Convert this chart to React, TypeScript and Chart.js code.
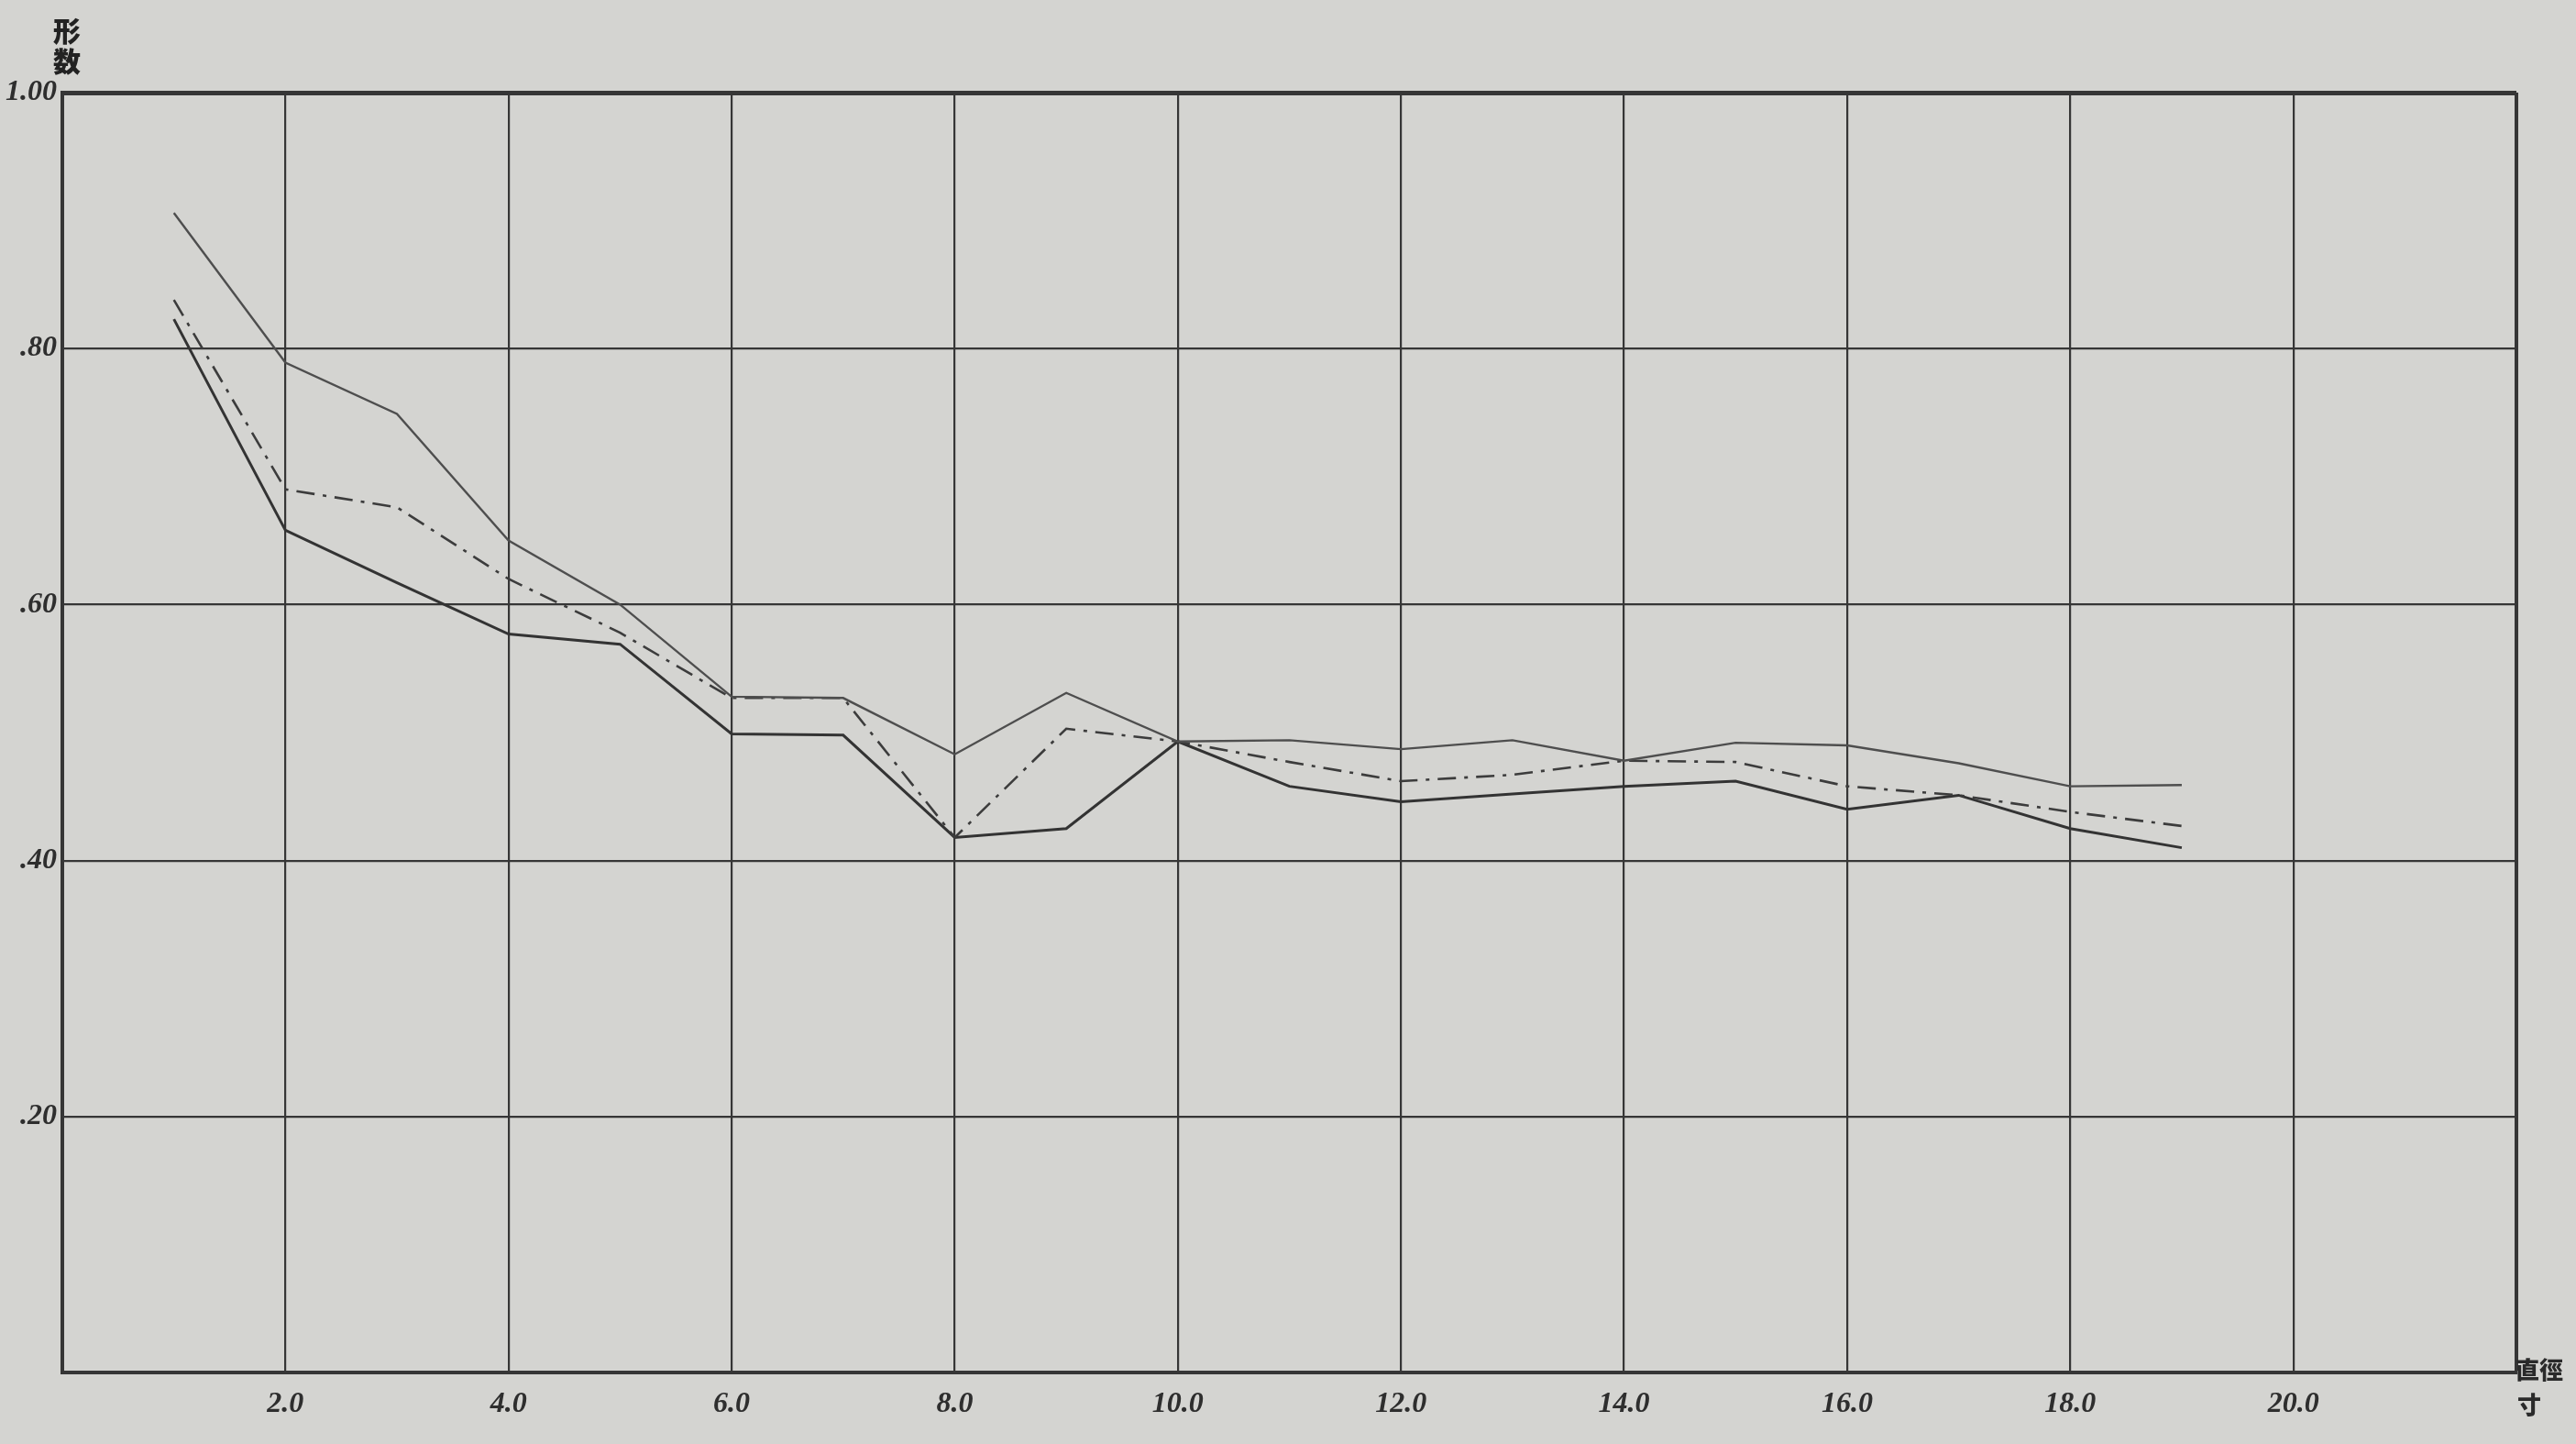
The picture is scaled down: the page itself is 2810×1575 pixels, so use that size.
import React, { useEffect, useRef } from "react";
import { Chart, registerables } from "chart.js";

Chart.register(...registerables);

// Diameter classes (x) and three form-factor series (y)
const diameters = [1, 2, 3, 4, 5, 6, 7, 8, 9, 10, 11, 12, 13, 14, 15, 16, 17, 18, 19];
const upperSeries = [0.906, 0.789, 0.749, 0.650, 0.600, 0.528, 0.527, 0.483, 0.531, 0.493, 0.494, 0.487, 0.494, 0.478, 0.492, 0.490, 0.476, 0.458, 0.459];
const middleSeries = [0.838, 0.690, 0.676, 0.620, 0.578, 0.527, 0.527, 0.418, 0.503, 0.493, 0.477, 0.462, 0.467, 0.478, 0.477, 0.458, 0.451, 0.438, 0.427];
const lowerSeries = [0.823, 0.658, 0.617, 0.577, 0.569, 0.499, 0.498, 0.418, 0.425, 0.493, 0.458, 0.446, 0.452, 0.458, 0.462, 0.440, 0.451, 0.425, 0.410];

const xTickValues = [2, 4, 6, 8, 10, 12, 14, 16, 18, 20];
const xTickLabels = ["2.0", "4.0", "6.0", "8.0", "10.0", "12.0", "14.0", "16.0", "18.0", "20.0"];
const yTickValues = [0.2, 0.4, 0.6, 0.8, 1.0];
const yTickLabels = [".20", ".40", ".60", ".80", "1.00"];

const yTitleChars = ["形", "数"];
const xTitleTop = "直徑";
const xTitleBottom = "寸";

const W = 2810;
const H = 1575;
const PAPER = "#d4d4d1";
const INK = "#363636";

export default function App() {
  const canvasRef = useRef<HTMLCanvasElement | null>(null);

  useEffect(() => {
    const canvas = canvasRef.current;
    if (!canvas) return;

    const toPoints = (ys: number[]) => diameters.map((x, i) => ({ x, y: ys[i] }));

    const paperPlugin = {
      id: "paper",
      beforeDraw(chart: any) {
        const c = chart.ctx;
        c.save();
        c.fillStyle = PAPER;
        c.fillRect(0, 0, chart.width, chart.height);
        c.restore();
      },
    };

    const tickFont = { family: "'Liberation Serif', serif", size: 32, style: "italic", weight: "bold" };

    const chart = new Chart(canvas, {
      type: "line",
      data: {
        datasets: [
          {
            label: "upper",
            data: toPoints(upperSeries),
            borderColor: "#4e4e4e",
            borderWidth: 2.4,
            pointRadius: 0,
            tension: 0,
            fill: false,
          },
          {
            label: "middle",
            data: toPoints(middleSeries),
            borderColor: "#3c3c3c",
            borderWidth: 2.6,
            borderDash: [20, 9, 4, 9],
            pointRadius: 0,
            tension: 0,
            fill: false,
          },
          {
            label: "lower",
            data: toPoints(lowerSeries),
            borderColor: "#333333",
            borderWidth: 3,
            pointRadius: 0,
            tension: 0,
            fill: false,
          },
        ],
      },
      options: {
        responsive: false,
        animation: false,
        maintainAspectRatio: false,
        layout: { padding: { top: 101, right: 65, left: 0, bottom: 0 } },
        plugins: {
          legend: { display: false },
          tooltip: { enabled: false },
          title: { display: false },
        },
        scales: {
          x: {
            type: "linear",
            min: 0,
            max: 22,
            afterFit(scale: any) {
              scale.height = 78;
            },
            border: { display: true, color: INK, width: 4 },
            grid: {
              drawTicks: false,
              color: INK,
              lineWidth: (ctx: any) => {
                const v = ctx.tick ? ctx.tick.value : 0;
                return v === 22 ? 4 : 2.2;
              },
            },
            ticks: {
              stepSize: 2,
              autoSkip: false,
              maxRotation: 0,
              padding: 16,
              color: "#2e2e2e",
              font: tickFont,
              callback: (v: any) => {
                const i = xTickValues.findIndex((t) => Math.abs(t - Number(v)) < 1e-6);
                return i >= 0 ? xTickLabels[i] : "";
              },
            },
          },
          y: {
            type: "linear",
            min: 0,
            max: 1,
            afterFit(scale: any) {
              scale.width = 68;
            },
            border: { display: true, color: INK, width: 4 },
            grid: {
              drawTicks: false,
              color: INK,
              lineWidth: (ctx: any) => {
                const v = ctx.tick ? ctx.tick.value : 0;
                return Math.abs(v - 1) < 1e-6 ? 5 : 2.2;
              },
            },
            ticks: {
              stepSize: 0.2,
              autoSkip: false,
              padding: 6,
              color: "#2e2e2e",
              font: tickFont,
              callback: (v: any) => {
                const i = yTickValues.findIndex((t) => Math.abs(t - Number(v)) < 1e-6);
                return i >= 0 ? yTickLabels[i] : "";
              },
            },
          },
        },
      },
      plugins: [paperPlugin],
    } as any);

    return () => {
      chart.destroy();
    };
  }, []);

  const cjk = "'Noto Sans CJK JP', 'Noto Sans CJK SC', sans-serif";

  return (
    <div style={{ position: "fixed", left: 0, top: 0, width: W, height: H, background: PAPER, overflow: "hidden" }}>
      <canvas ref={canvasRef} width={W} height={H} style={{ position: "absolute", left: 0, top: 0, width: W, height: H }} />
      <div
        style={{
          position: "absolute",
          left: 56,
          top: 16,
          width: 34,
          fontFamily: cjk,
          fontWeight: 900,
          fontSize: 30,
          lineHeight: "33px",
          color: "#222",
          textAlign: "center",
        }}
      >
        {yTitleChars.map((ch, i) => (
          <div key={i}>{ch}</div>
        ))}
      </div>
      <div
        style={{
          position: "absolute",
          left: 2744,
          top: 1474,
          fontFamily: cjk,
          fontWeight: 900,
          fontSize: 26,
          lineHeight: "38px",
          color: "#2a2a2a",
          whiteSpace: "nowrap",
        }}
      >
        <div>{xTitleTop}</div>
        <div style={{ paddingLeft: 2 }}>{xTitleBottom}</div>
      </div>
    </div>
  );
}
